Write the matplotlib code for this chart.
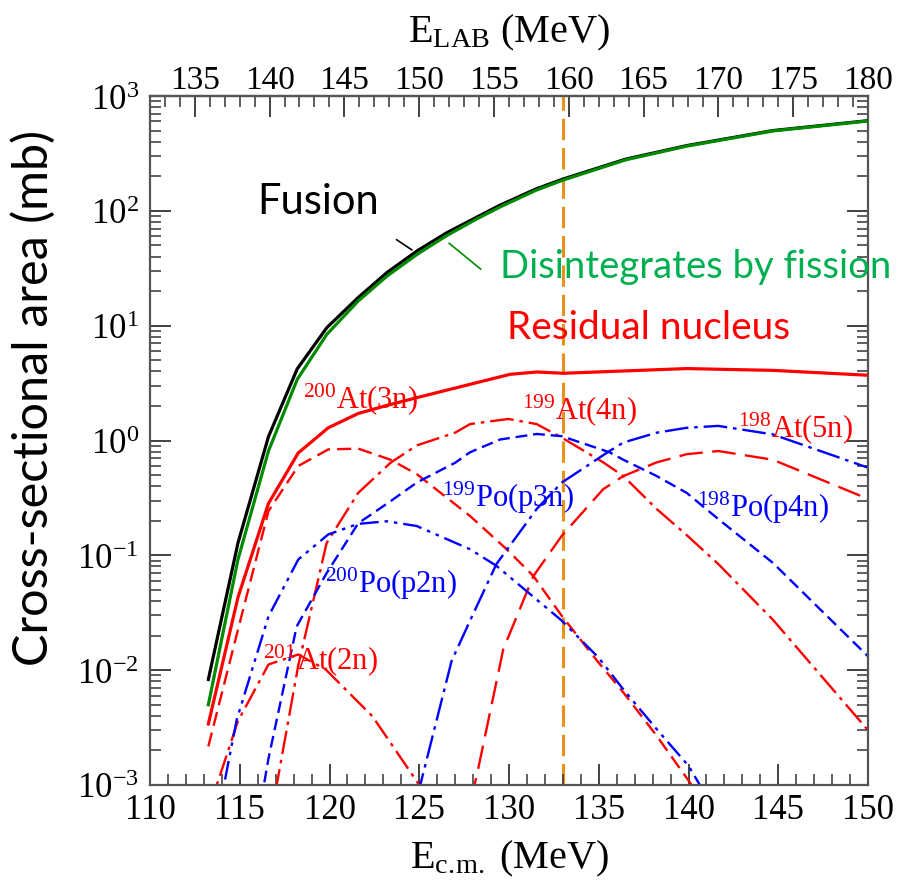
import numpy as np
import matplotlib
matplotlib.use('Agg')
import matplotlib.pyplot as plt
from matplotlib.ticker import MultipleLocator, LogLocator, NullFormatter, FuncFormatter

plt.rcParams['font.family'] = 'Liberation Serif'
plt.rcParams['mathtext.fontset'] = 'custom'
plt.rcParams['mathtext.rm'] = 'Liberation Serif'
plt.rcParams['mathtext.it'] = 'Liberation Serif:italic'
plt.rcParams['mathtext.bf'] = 'Liberation Serif:bold'

# E_cm = ratio * E_lab
LAB_TO_CM = 0.8333
MARKER_E = 133.0  # vertical dashed line (E_cm)

# ---- data (E_cm in MeV, cross section in mb) ----
fusion_x = [113.25, 114.9, 116.6, 118.2, 119.85, 121.6, 123.2, 124.9, 126.5, 128.2,
            129.5, 131.5, 133.0, 136.5, 139.9, 144.7, 150.0]
fusion_y = [0.0083, 0.128, 1.08, 4.2, 9.6, 17.6, 29, 45, 64, 88,
            112, 155, 189, 282, 370, 500, 610]
fission_y = [0.005, 0.092, 0.81, 3.4, 8.4, 16.4, 27, 42, 60.5, 85,
             108, 151, 185, 278, 366, 496, 606]

residual_x = [113.25, 114.9, 116.6, 118.26, 119.93, 121.6, 123.2, 124.86, 130.06,
              131.54, 133.03, 139.9, 144.7, 150.0]
residual_y = [0.0034, 0.043, 0.283, 0.78, 1.29, 1.72, 2.02, 2.36, 3.77,
              3.95, 3.85, 4.23, 4.08, 3.7]

at2n_x = [113.25, 114.9, 116.6, 118.26, 119.8, 122.4, 125.0, 126.0]
at2n_y = [0.0006, 0.0036, 0.0112, 0.0137, 0.0101, 0.00395, 0.001, 0.0005]

at3n_x = [113.25, 114.9, 116.6, 118.26, 119.93, 121.6, 123.4, 124.86, 127.83, 129.87,
          131.36, 132.94, 134.98, 136.37, 138.23, 140.08, 141.5]
at3n_y = [0.00217, 0.0225, 0.243, 0.6, 0.836, 0.85, 0.68, 0.51, 0.22, 0.113,
          0.066, 0.0297, 0.0117, 0.0064, 0.00268, 0.00105, 0.0004]

at4n_x = [116.6, 118.26, 119.84, 121.6, 123.4, 124.86, 127.0, 127.83, 129.96, 131.54,
          132.94, 135.25, 136.37, 138.23, 139.9, 141.66, 144.7, 150.0]
at4n_y = [0.0004, 0.011, 0.128, 0.35, 0.64, 0.906, 1.17, 1.39, 1.54, 1.39,
          1.06, 0.645, 0.49, 0.253, 0.15, 0.084, 0.0275, 0.003]

at5n_x = [127.0, 128.2, 129.68, 131.36, 132.94, 135.25, 136.37, 138.23, 139.9, 141.66,
          144.7, 150.0]
at5n_y = [0.0002, 0.0012, 0.0152, 0.066, 0.148, 0.377, 0.49, 0.645, 0.76, 0.81,
          0.68, 0.31]

po2n_x = [113.25, 114.83, 116.6, 118.26, 119.93, 121.6, 123.2, 124.86, 127.83, 129.3,
          132.94, 134.98, 136.37, 138.23, 140.0, 141.0]
po2n_y = [0.0002, 0.0037, 0.0294, 0.092, 0.152, 0.188, 0.198, 0.18, 0.113, 0.081,
          0.027, 0.0129, 0.0068, 0.00306, 0.00147, 0.0008]

po3n_x = [114.9, 116.6, 118.17, 119.84, 121.6, 123.4, 124.86, 127.0, 127.83, 129.5,
          131.54, 132.94, 135.6, 136.37, 138.23, 139.9, 141.66, 144.7, 150.0]
po3n_y = [0.00005, 0.0017, 0.024, 0.07, 0.19, 0.296, 0.43, 0.64, 0.79, 1.02,
          1.14, 1.09, 0.79, 0.68, 0.49, 0.35, 0.207, 0.086, 0.0132]

po4n_x = [124.9, 126.8, 127.83, 129.3, 131.54, 132.94, 135.6, 136.37, 138.23, 139.9,
          141.66, 144.7, 150.0]
po4n_y = [0.0008, 0.012, 0.027, 0.084, 0.253, 0.43, 0.81, 0.96, 1.17, 1.29,
          1.34, 1.13, 0.58]

RED = '#ff0000'
BLUE = '#0000ff'

fig = plt.figure(figsize=(9.03, 8.87), dpi=100)
ax = fig.add_axes([150 / 903, 1 - 786 / 887, 718 / 903, 689 / 887])

ax.axvline(MARKER_E, color='#e8921a', lw=2.2, ls=(0, (7, 2.6)), zorder=1)

ax.plot(fusion_x, fusion_y, color='black', lw=2.3, zorder=4)
ax.plot(fusion_x, fission_y, color='#008a00', lw=2.3, zorder=5)
ax.plot(residual_x, residual_y, color=RED, lw=2.3, zorder=4)

ax.plot(at2n_x, at2n_y, color=RED, lw=1.7, ls=(0, (9, 2.5, 1.5, 2.5)))
ax.plot(at3n_x, at3n_y, color=RED, lw=1.7, ls=(0, (6, 3)))
ax.plot(at4n_x, at4n_y, color=RED, lw=1.7, ls=(0, (10, 2.5, 1.5, 2.5)))
ax.plot(at5n_x, at5n_y, color=RED, lw=1.7, ls=(0, (10, 4)))
ax.plot(po2n_x, po2n_y, color=BLUE, lw=1.7, ls=(0, (8, 2.5, 1.5, 2.5, 1.5, 2.5)))
ax.plot(po3n_x, po3n_y, color=BLUE, lw=1.7, ls=(0, (5, 2.5)))
ax.plot(po4n_x, po4n_y, color=BLUE, lw=1.7, ls=(0, (10, 2.5, 1.5, 2.5)))

ax.set_yscale('log')
ax.set_xlim(110, 150)
ax.set_ylim(1e-3, 1e3)

ax.xaxis.set_major_locator(MultipleLocator(5))
ax.xaxis.set_minor_locator(MultipleLocator(1))
ax.yaxis.set_major_locator(LogLocator(base=10, numticks=10))
ax.yaxis.set_minor_locator(LogLocator(base=10, subs=np.arange(2, 10), numticks=100))
ax.yaxis.set_minor_formatter(NullFormatter())
ax.yaxis.set_major_formatter(FuncFormatter(lambda v, p: r'$10^{%d}$' % round(np.log10(v))))

for s in ax.spines.values():
    s.set_color('#555555')
    s.set_linewidth(1.6)

ax.tick_params(axis='both', which='both', direction='in', color='#333333',
               labelsize=25, right=True, top=False)
ax.tick_params(axis='both', which='major', length=15, width=1.3)
ax.tick_params(axis='both', which='minor', length=8, width=1.1)
ax.tick_params(axis='x', pad=6)
ax.tick_params(axis='y', pad=8)

sec = ax.secondary_xaxis('top', functions=(lambda x: x / LAB_TO_CM, lambda x: x * LAB_TO_CM))
sec.xaxis.set_major_locator(MultipleLocator(5))
sec.xaxis.set_minor_locator(MultipleLocator(1))
sec.spines['top'].set_color('#555555')
sec.spines['top'].set_linewidth(1.6)
sec.tick_params(which='both', direction='in', color='#333333', labelsize=24, pad=1)
sec.tick_params(which='major', length=15, width=1.3)
sec.tick_params(which='minor', length=8, width=1.1)
sec.set_xlabel(r'E$_{\rm LAB}$ (MeV)', fontsize=29, labelpad=16)

ax.set_xlabel(r'E$_{\rm c.\!m.}$ (MeV)', fontsize=29, labelpad=8)
fig.text(33 / 903, 1 - 398 / 887, 'Cross-sectional area (mb)', rotation=90,
         ha='center', va='center', fontsize=35, family='Lato')

# ---- annotations ----
ax.text(119.36, 121.7, 'Fusion', fontsize=30, family='Lato', ha='center', va='center')
ax.text(129.5, 33, 'Disintegrates by fission', fontsize=27.5, family='Lato',
        color='#00b050', ha='left', va='center')
ax.text(129.9, 9.7, 'Residual nucleus', fontsize=28, family='Lato',
        color=RED, ha='left', va='center')
ax.plot([123.74, 124.58], [56, 45.8], color='black', lw=1.2)
ax.plot([126.67, 128.42], [52.1, 31.1], color='#008a00', lw=1.2)

labels = [
    (118.52, 1.95, r'$^{200}$At(3n)', RED),
    (130.71, 1.57, r'$^{199}$At(4n)', RED),
    (142.76, 1.09, r'$^{198}$At(5n)', RED),
    (126.25, 0.268, r'$^{199}$Po(p3n)', BLUE),
    (140.47, 0.219, r'$^{198}$Po(p4n)', BLUE),
    (119.75, 0.0478, r'$^{200}$Po(p2n)', BLUE),
    (116.3, 0.0104, r'$^{201}$At(2n)', RED),
]
for x, y, t, c in labels:
    ax.text(x, y, t, color=c, fontsize=22, ha='left', va='baseline')

fig.savefig('out.png', dpi=100)
